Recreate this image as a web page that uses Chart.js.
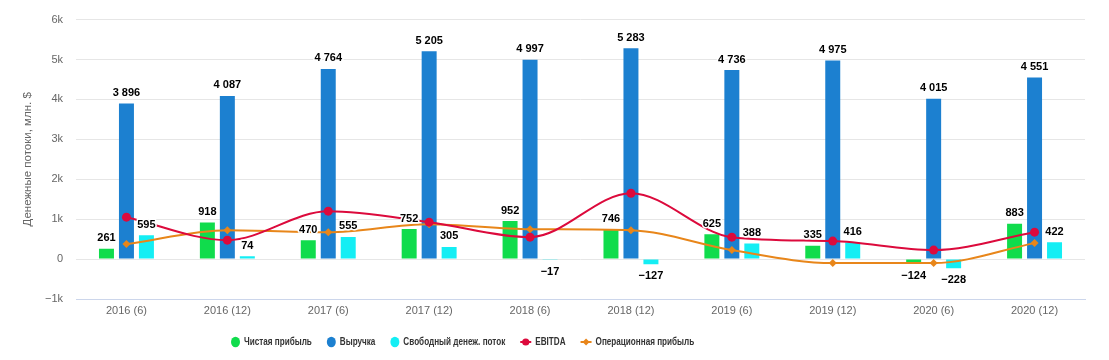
<!DOCTYPE html>
<html><head><meta charset="utf-8">
<script src="https://cdn.jsdelivr.net/npm/chart.js@4/dist/chart.umd.min.js"></script>
<style>html,body{margin:0;padding:0;background:#fff}#wrap{width:1109px;height:360px;position:relative}</style>
</head><body><div id="wrap"><canvas id="c"></canvas></div>
<script>
const categories = ['2016 (6)','2016 (12)','2017 (6)','2017 (12)','2018 (6)','2018 (12)','2019 (6)','2019 (12)','2020 (6)','2020 (12)'];
const netProfit = [261, 918, 470, 752, 952, 746, 625, 335, -124, 883];
const revenue = [3896, 4087, 4764, 5205, 4997, 5283, 4736, 4975, 4015, 4551];
const freeCashFlow = [595, 74, 555, 305, -17, -127, 388, 416, -228, 422];
const ebitda = [1050, 475, 1200, 925, 550, 1650, 550, 450, 225, 675];
const operatingProfit = [375, 725, 675, 875, 750, 725, 225, -100, -100, 400];
const seriesNames = ['Чистая прибыль','Выручка','Свободный денеж. поток','EBITDA','Операционная прибыль'];
const yTicks = [-1000, 0, 1000, 2000, 3000, 4000, 5000, 6000];

const COL = {green:'#10dc4c', blue:'#1c80d0', cyan:'#14eef4', red:'#dc0a3c', orange:'#e8861a'};

function fmtNum(v){const a=Math.abs(v).toString().replace(/\B(?=(\d{3})+(?!\d))/g,' ');return (v<0?'\u2212':'')+a;}

const labelPlugin={id:'barLabels',afterDatasetsDraw(chart){
  const ctx=chart.ctx;ctx.save();
  ctx.font='bold 11px "Liberation Sans", Arial, sans-serif';ctx.textAlign='center';ctx.textBaseline='middle';ctx.lineJoin='round';
  [0,1,2].forEach(i=>{const meta=chart.getDatasetMeta(i);if(meta.hidden)return;
    meta.data.forEach((el,j)=>{const v=chart.data.datasets[i].data[j];const t=fmtNum(v);
      const y=v>=0?el.y-10.5:el.y+12;
      ctx.strokeStyle='#fff';ctx.lineWidth=3;ctx.strokeText(t,el.x,y);
      ctx.fillStyle='#000';ctx.fillText(t,el.x,y);});});
  ctx.restore();}};

const legendPlugin={id:'customLegend',afterDraw(chart){
  const ctx=chart.ctx;ctx.save();
  const sx=0.74;const y=342;let x=231;
  ctx.font='bold 11px "Liberation Sans", Arial, sans-serif';ctx.textBaseline='middle';ctx.textAlign='left';
  chart.data.datasets.forEach((ds,i)=>{
    const col=ds.borderColor||ds.backgroundColor;
    if(ds.type==='bar'){
      ctx.fillStyle=ds.backgroundColor;ctx.beginPath();ctx.ellipse(x+4.5,y,4.5,5.2,0,0,Math.PI*2);ctx.fill();x+=9;
    }else{
      ctx.strokeStyle=col;ctx.lineWidth=2;ctx.beginPath();ctx.moveTo(x,y);ctx.lineTo(x+11,y);ctx.stroke();
      ctx.fillStyle=col;ctx.beginPath();
      if(ds.pointStyle==='rectRot'){ctx.moveTo(x+5.5,y-3.5);ctx.lineTo(x+9,y);ctx.lineTo(x+5.5,y+3.5);ctx.lineTo(x+2,y);ctx.closePath();}
      else{ctx.arc(x+5.5,y,3.6,0,Math.PI*2);}
      ctx.fill();x+=11;
    }
    x+=4;
    const w=ctx.measureText(ds.label).width*sx;
    ctx.save();ctx.translate(x,y);ctx.scale(sx,1);ctx.fillStyle='#333';ctx.fillText(ds.label,0,0);ctx.restore();
    x+=w+15;
  });
  ctx.restore();}};

const barCommon={categoryPercentage:0.594,barPercentage:0.75,borderWidth:0};
new Chart(document.getElementById('c'),{
  data:{labels:categories,datasets:[
    {type:'bar',label:seriesNames[0],data:netProfit,backgroundColor:COL.green,...barCommon,order:2},
    {type:'bar',label:seriesNames[1],data:revenue,backgroundColor:COL.blue,...barCommon,order:2},
    {type:'bar',label:seriesNames[2],data:freeCashFlow,backgroundColor:COL.cyan,...barCommon,order:2},
    {type:'line',label:seriesNames[3],data:ebitda,borderColor:COL.red,backgroundColor:COL.red,borderWidth:2,cubicInterpolationMode:'monotone',pointRadius:4.5,pointHoverRadius:4.5,pointBorderWidth:0,pointStyle:'circle',order:0},
    {type:'line',label:seriesNames[4],data:operatingProfit,borderColor:COL.orange,backgroundColor:COL.orange,borderWidth:2,cubicInterpolationMode:'monotone',pointRadius:4,pointHoverRadius:4,pointBorderWidth:0,pointStyle:'rectRot',order:1}
  ]},
  options:{responsive:true,maintainAspectRatio:false,animation:false,
    layout:{padding:{top:19,right:24,left:0,bottom:37}},
    plugins:{tooltip:{enabled:false},legend:{display:false}},
    scales:{
      x:{grid:{display:false,drawTicks:false},border:{display:true,color:'#ccd6eb',width:1},
        ticks:{color:'#666',font:{family:'"Liberation Sans", Arial, sans-serif',size:11},padding:5,maxRotation:0},
        afterFit(s){s.height=24;}},
      y:{min:-1000,max:6000,afterBuildTicks(s){s.ticks=yTicks.map(v=>({value:v}));},
        grid:{color:'#e6e6e6',drawTicks:false},border:{display:false},
        ticks:{color:'#666',font:{family:'"Liberation Sans", Arial, sans-serif',size:11},padding:13,
          callback(v){return v===0?'0':(v<0?'\u2212':'')+Math.abs(v/1000)+'k';}},
        title:{display:true,text:'Денежные потоки, млн. $',color:'#666',font:{family:'"Liberation Sans", Arial, sans-serif',size:11.5},padding:{top:21,bottom:0}},
        afterFit(s){s.width=76;}}
    }},
  plugins:[labelPlugin,legendPlugin]
});
</script></body></html>
